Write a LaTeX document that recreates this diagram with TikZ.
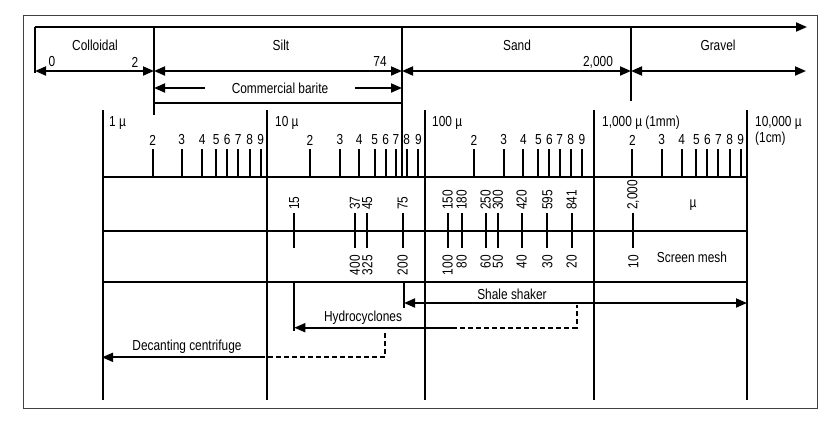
\documentclass[tikz,border=0pt]{standalone}
\usepackage{fontspec}
\setmainfont[FakeStretch=0.82]{Liberation Sans}
\usetikzlibrary{arrows.meta}
\begin{document}
\begin{tikzpicture}[x=1pt,y=-1pt,
  heavy/.style={line width=1.8pt},
  frameline/.style={line width=0.9pt,draw=black!75},
  dbl/.style={heavy,{Triangle[length=11pt,width=9pt]}-{Triangle[length=11pt,width=9pt]}},
  rarr/.style={heavy,-{Triangle[length=11pt,width=9pt]}},
  larr/.style={heavy,{Triangle[length=11pt,width=9pt]}-},
  dashline/.style={heavy,dash pattern=on 5pt off 3pt},
  lbl/.style={font=\fontsize{14.5}{16}\selectfont,inner sep=0pt},
  rlbl/.style={lbl,rotate=90},
]
\useasboundingbox (0,0) rectangle (837,429);
% frame
\draw[frameline] (23,15) rectangle (817,408);

% ---------------- top classification ----------------
\coordinate (tl) at (35,27);
\coordinate (tr) at (807,27);
\draw[rarr] (tl) -- (tr);
\coordinate (c0) at (35,71);
\coordinate (c2) at (154,71);
\coordinate (c74) at (402,71);
\coordinate (c2000) at (631,71);
\coordinate (cend) at (806,71);
\draw[heavy] (35,27) -- (35,73);
\draw[heavy] (154,27) -- (154,115);
\draw[heavy] (402,27) -- (402,177);
\draw[heavy] (631,27) -- (631,101);
\draw[dbl] (c0) -- (c2);
\draw[dbl] (c2) -- (c74);
\draw[dbl] (c74) -- (c2000);
\draw[dbl] (c2000) -- (cend);
\node[lbl] (colloidal) at (95,45) {Colloidal};
\node[lbl] (silt) at (281,45) {Silt};
\node[lbl] (sand) at (517,45) {Sand};
\node[lbl] (gravel) at (718,45) {Gravel};
\node[lbl] (n0) at (52,62) {0};
\node[lbl] (n2) at (135,62) {2};
\node[lbl] (n74) at (380,62) {74};
\node[lbl] (n2000) at (598,62) {2,000};
% commercial barite
\node[lbl] (barite) at (280,88) {Commercial barite};
\coordinate (bl) at (154,88);
\coordinate (blm) at (205,88);
\coordinate (brm) at (355,88);
\coordinate (br) at (402,88);
\draw[larr] (bl) -- (blm);
\draw[rarr] (brm) -- (br);
\draw[heavy] (154,103) -- (402,103);

% ---------------- log scale ----------------
\foreach \x in {103,267,425,594,747} \draw[heavy] (\x,110) -- (\x,400);
\node[lbl,anchor=west] (d1) at (109,123) {1 µ};
\node[lbl,anchor=west] (d10) at (275,123) {10 µ};
\node[lbl,anchor=west] (d100) at (432,123) {100 µ};
\node[lbl,anchor=west] (d1000) at (602,123) {1,000 µ (1mm)};
\node[lbl,anchor=west] (d10000) at (755,123) {10,000 µ};
\node[lbl,anchor=west] (d1cm) at (755,139) {(1cm)};
\foreach \x/\d in {152.7/2,181.7/3,202.3/4,216.3/5,227.3/6,238.3/7,249.7/8,260.7/9,
                   310/2,340/3,359.3/4,374.7/5,385.7/6,396/7,406.7/8,418.3/9,
                   474/2,503.7/3,523.3/4,538.3/5,549.3/6,559.7/7,570.7/8,582/9,
                   632.3/2,661.7/3,681.7/4,696.3/5,707.3/6,718.3/7,729.7/8,740.7/9}
  {\draw[heavy] (\x,149) -- (\x,177);
   \node[lbl] at (\x,140) {\d};}
\foreach \y in {177,231,282} \draw[heavy] (103,\y) -- (747,\y);

% micron / mesh ticks
\foreach \x/\m in {294.3/15,355/37,367.3/45,402.7/75,447.7/150,461.7/180,485.7/250,
                   498/300,521.7/420,547.3/595,571.7/841,633.3/{2,000}}
  {\draw[heavy] (\x,213) -- (\x,248);
   \node[rlbl,anchor=west] at (\x,210) {\m};}
\foreach \x/\s in {355/400,367.3/325,402.7/200,447.7/100,461.7/80,485.7/60,
                   498/50,521.7/40,547.3/30,571.7/20,633.3/10}
  {\node[rlbl,anchor=east] at (\x,255) {\s};}
\node[lbl] (mu) at (693,205) {µ};
\node[lbl] (mesh) at (692,257) {Screen mesh};

% ---------------- equipment ----------------
\coordinate (ssl) at (404,303);
\coordinate (ssr) at (747,303);
\draw[heavy] (404,282) -- (404,308);
\draw[dbl] (ssl) -- (ssr);
\node[lbl] (shaker) at (512,294) {Shale shaker};

\coordinate (hcl) at (294.3,327.7);
\coordinate (hcm) at (452,327.7);
\coordinate (hcr) at (576.7,327.7);
\coordinate (hct) at (576.7,305);
\draw[heavy] (294.3,282) -- (294.3,331);
\draw[larr] (hcl) -- (hcm);
\draw[dashline] (hcm) -- (hcr) -- (hct);
\node[lbl] (hydro) at (363,318) {Hydrocyclones};

\coordinate (dcl) at (102,357.3);
\coordinate (dcm) at (260,357.3);
\coordinate (dcr) at (385,357.3);
\coordinate (dct) at (385,331.7);
\draw[larr] (dcl) -- (dcm);
\draw[dashline] (dcm) -- (dcr) -- (dct);
\node[lbl] (decant) at (187,347) {Decanting centrifuge};
\end{tikzpicture}
\end{document}
